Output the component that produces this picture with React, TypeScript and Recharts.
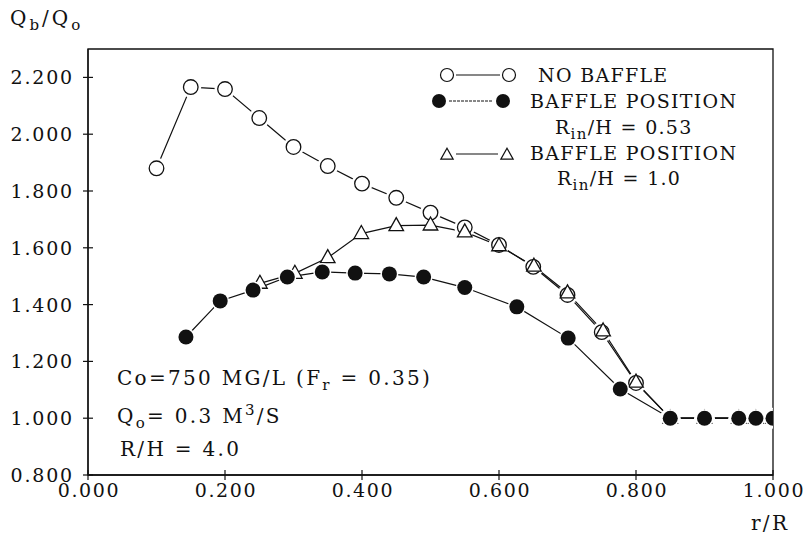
import React from "react";
import { ComposedChart, Line, XAxis, YAxis, ReferenceArea } from "recharts";

// r/R positions and Qb/Qo values
const noBaffleX = [0.1, 0.15, 0.2, 0.25, 0.3, 0.35, 0.4, 0.45, 0.5, 0.55, 0.6, 0.65, 0.7, 0.75, 0.8, 0.85, 0.9, 0.95, 0.975, 1.0];
const noBaffleY = [1.88, 2.166, 2.159, 2.057, 1.955, 1.888, 1.826, 1.776, 1.724, 1.672, 1.61, 1.533, 1.434, 1.303, 1.124, 1.0, 1.0, 1.0, 1.0, 1.0];

const baffle053X = [0.143, 0.193, 0.241, 0.291, 0.342, 0.39, 0.44, 0.49, 0.55, 0.626, 0.701, 0.777, 0.85, 0.9, 0.95, 0.975, 1.0];
const baffle053Y = [1.286, 1.413, 1.451, 1.497, 1.515, 1.511, 1.508, 1.497, 1.46, 1.392, 1.282, 1.103, 1.0, 1.0, 1.0, 1.0, 1.0];

const baffle10X = [0.251, 0.302, 0.35, 0.399, 0.45, 0.5, 0.55, 0.6, 0.651, 0.7, 0.752, 0.8, 0.85, 0.9, 0.95, 0.975, 1.0];
const baffle10Y = [1.475, 1.51, 1.565, 1.65, 1.678, 1.68, 1.656, 1.607, 1.535, 1.441, 1.307, 1.127, 1.0, 1.0, 1.0, 1.0, 1.0];

const xTicks = [0, 0.2, 0.4, 0.6, 0.8, 1.0];
const yTicks = [0.8, 1.0, 1.2, 1.4, 1.6, 1.8, 2.0, 2.2];

const toRows = (xs: number[], ys: number[]) => xs.map((x, i) => ({ x, y: ys[i] }));
const noBaffle = toRows(noBaffleX, noBaffleY);
const baffle053 = toRows(baffle053X, baffle053Y);
const baffle10 = toRows(baffle10X, baffle10Y);

const FONT = "'DejaVu Serif', 'Liberation Serif', serif";
const INK = "#111";

const XTick = (p: any) => (
  <g>
    <line x1={p.x} x2={p.x} y1={p.y - 5} y2={p.y + 5} stroke={INK} strokeWidth={1.2} />
    <text x={p.x + 1} y={p.y + 22} textAnchor="middle" fontFamily={FONT} fontSize={19} letterSpacing={1.6} fill={INK}>
      {Number(p.payload.value).toFixed(3)}
    </text>
  </g>
);

const YTick = (p: any) => (
  <g>
    <line x1={p.x - 5} x2={p.x + 5} y1={p.y} y2={p.y} stroke={INK} strokeWidth={1.2} />
    <text x={p.x - 14} y={p.y + 7} textAnchor="end" fontFamily={FONT} fontSize={19} letterSpacing={1.8} fill={INK}>
      {Number(p.payload.value).toFixed(3)}
    </text>
  </g>
);

const openDot = (p: any) => (
  <g key={`o-${p.index}`}>
    <circle cx={p.cx} cy={p.cy} r={10.5} fill="#fff" />
    <circle cx={p.cx} cy={p.cy} r={7.3} fill="#fff" stroke={INK} strokeWidth={1.3} />
  </g>
);

const triPath = (cx: number, cy: number, s: number) =>
  `M${cx},${cy - s * 0.62} L${cx + s * 0.56},${cy + s * 0.38} L${cx - s * 0.56},${cy + s * 0.38} Z`;

const triDot = (p: any) => (
  <path key={`t-${p.index}`} d={triPath(p.cx, p.cy, 13)} fill="#fff" stroke={INK} strokeWidth={1.3} />
);

const filledDot = (p: any) => (
  <g key={`f-${p.index}`}>
    <circle cx={p.cx} cy={p.cy} r={9} fill="#fff" />
    <circle cx={p.cx} cy={p.cy} r={7.5} fill={INK} />
  </g>
);

function Overlay() {
  const t = { fontFamily: FONT, fontSize: 20, fill: INK, letterSpacing: 2.3 } as const;
  const lg = { fontFamily: FONT, fontSize: 19, fill: INK, letterSpacing: 1.3 } as const;
  return (
    <svg width={805} height={539} style={{ position: "absolute", left: 0, top: 0, pointerEvents: "none" }}>
      {/* axis titles */}
      <text x={10} y={25} {...t} letterSpacing={3}>
        Q<tspan dy={5} fontSize={15}>b</tspan>
        <tspan dy={-5}>/Q</tspan>
        <tspan dy={5} fontSize={15}>o</tspan>
      </text>
      <text x={751} y={530} {...t}>r/R</text>

      {/* legend */}
      <circle cx={447} cy={75} r={6.5} fill="#fff" stroke={INK} strokeWidth={1.2} />
      <line x1={456} x2={500} y1={75} y2={75} stroke={INK} strokeWidth={1.2} />
      <circle cx={509} cy={75} r={6.5} fill="#fff" stroke={INK} strokeWidth={1.2} />
      <text x={538} y={82} {...lg}>NO BAFFLE</text>

      <circle cx={439} cy={101} r={7} fill={INK} />
      <line x1={449} x2={493} y1={101} y2={101} stroke={INK} strokeWidth={1} strokeDasharray="3 1" />
      <circle cx={503} cy={101} r={7} fill={INK} />
      <text x={530} y={108} {...lg}>BAFFLE POSITION</text>
      <text x={555} y={134} {...lg}>
        R<tspan dy={5} fontSize={15}>in</tspan>
        <tspan dy={-5}>/H = 0.53</tspan>
      </text>

      <path d={triPath(447, 155, 11)} fill="#fff" stroke={INK} strokeWidth={1.2} />
      <line x1={456} x2={498} y1={154} y2={154} stroke={INK} strokeWidth={1.2} />
      <path d={triPath(507, 155, 11)} fill="#fff" stroke={INK} strokeWidth={1.2} />
      <text x={530} y={160} {...lg}>BAFFLE POSITION</text>
      <text x={557} y={185} {...lg}>
        R<tspan dy={5} fontSize={15}>in</tspan>
        <tspan dy={-5}>/H = 1.0</tspan>
      </text>

      {/* conditions */}
      <text x={117} y={385} {...t}>
        Co=750 MG/L  (F<tspan dy={5} fontSize={15}>r</tspan>
        <tspan dy={-5}> = 0.35)</tspan>
      </text>
      <text x={117} y={423} {...t}>
        Q<tspan dy={5} fontSize={15}>o</tspan>
        <tspan dy={-5}>= 0.3 M</tspan>
        <tspan dy={-8} fontSize={15}>3</tspan>
        <tspan dy={8}>/S</tspan>
      </text>
      <text x={120} y={456} {...t}>R/H = 4.0</text>
    </svg>
  );
}

export default function App() {
  return (
    <div style={{ position: "absolute", left: 0, top: 0, width: 805, height: 539, background: "#fff" }}>
      <ComposedChart width={805} height={539} margin={{ top: 49, right: 32, bottom: 34, left: 8 }}>
        <XAxis
          type="number"
          dataKey="x"
          domain={[0, 1]}
          ticks={xTicks}
          tick={XTick}
          tickSize={0}
          tickMargin={0}
          tickLine={false}
          axisLine={{ stroke: INK, strokeWidth: 1.3 }}
          height={30}
          allowDataOverflow
        />
        <YAxis
          type="number"
          domain={[0.8, 2.3]}
          ticks={yTicks}
          tick={YTick}
          tickSize={0}
          tickMargin={0}
          tickLine={false}
          axisLine={{ stroke: INK, strokeWidth: 1.3 }}
          width={80}
          allowDataOverflow
        />
        <ReferenceArea x1={0} x2={1} y1={0.8} y2={2.3} fill="none" stroke={INK} strokeWidth={1.3} ifOverflow="visible" />

        {/* connecting lines */}
        <Line data={baffle10} dataKey="y" stroke={INK} strokeWidth={1.2} dot={false} activeDot={false} isAnimationActive={false} />
        <Line data={noBaffle} dataKey="y" stroke={INK} strokeWidth={1.2} dot={false} activeDot={false} isAnimationActive={false} />
        <Line data={baffle053} dataKey="y" stroke={INK} strokeWidth={1.2} dot={false} activeDot={false} isAnimationActive={false} />

        {/* markers, drawn over every line; filled circles end on top */}
        <Line data={noBaffle} dataKey="y" stroke="none" dot={openDot} activeDot={false} isAnimationActive={false} />
        <Line data={baffle10} dataKey="y" stroke="none" dot={triDot} activeDot={false} isAnimationActive={false} />
        <Line data={baffle053} dataKey="y" stroke="none" dot={filledDot} activeDot={false} isAnimationActive={false} />
      </ComposedChart>
      <Overlay />
    </div>
  );
}
